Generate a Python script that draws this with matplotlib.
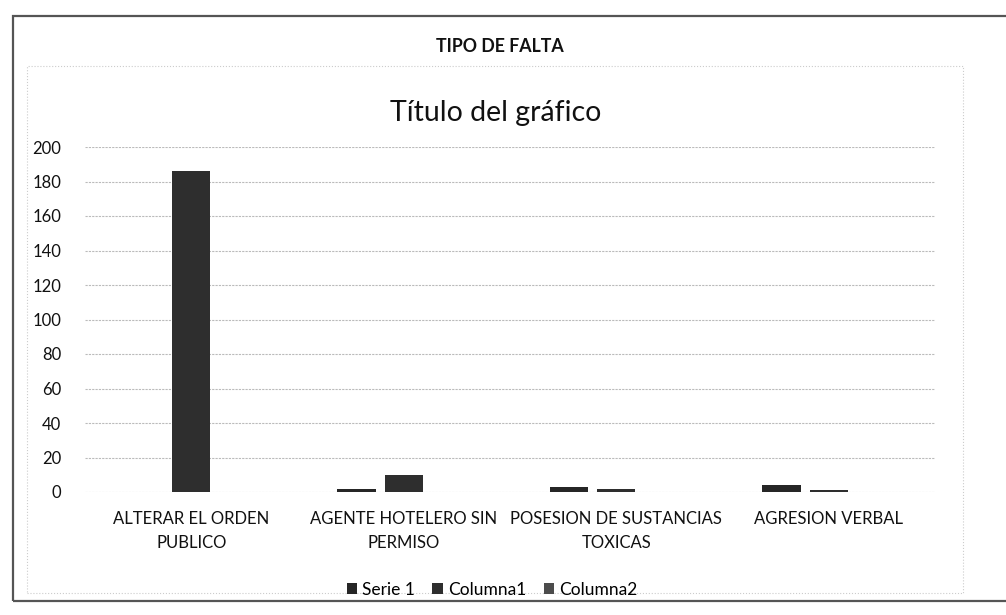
import matplotlib.pyplot as plt
import numpy as np
from matplotlib.patches import Rectangle

categories = ['ALTERAR EL ORDEN\nPUBLICO', 'AGENTE HOTELERO SIN\nPERMISO',
              'POSESION DE SUSTANCIAS\nTOXICAS', 'AGRESION VERBAL']
series_names = ['Serie 1', 'Columna1', 'Columna2']
serie1 = [0, 2, 3, 4]
columna1 = [186, 10, 2, 1]
columna2 = [0, 0, 0, 0]
y_ticks = [0, 20, 40, 60, 80, 100, 120, 140, 160, 180, 200]

plt.rcParams['font.family'] = ['Lato', 'DejaVu Sans']

fig = plt.figure(figsize=(10.06, 6.15), dpi=100)
W, H = 1006, 615

# outer border and faint inner chart box (pixel coords)
fig.patches.append(Rectangle((13 / W, 1 - 601 / H), 1.0, (601 - 16) / H,
                             transform=fig.transFigure, fill=False,
                             edgecolor='#555555', linewidth=1.6))
fig.patches.append(Rectangle((27 / W, 1 - 593 / H), (963 - 27) / W, (593 - 66) / H,
                             transform=fig.transFigure, fill=False,
                             edgecolor='#cccccc', linewidth=0.8, linestyle=':'))

ax = fig.add_axes([85 / W, 1 - 492 / H, (935 - 85) / W, (492 - 147) / H])

x = np.arange(len(categories))
w = 0.18
off = 0.222
colors = ['#262626', '#2e2e2e', '#4c4c4c']
for i, (name, vals) in enumerate(zip(series_names, [serie1, columna1, columna2])):
    ax.bar(x + (i - 1) * off, vals, width=w, color=colors[i], label=name, zorder=3)

ax.set_xlim(-0.5, len(categories) - 0.5)
ax.set_ylim(0, 200)
ax.set_yticks(y_ticks)
ax.set_xticks(x)
ax.set_xticklabels(categories, fontsize=12, color='#111111', linespacing=1.55,
                   va='top')
ax.tick_params(axis='y', labelsize=12, length=0, pad=17, colors='#111111')
ax.tick_params(axis='x', length=0, pad=14)
ax.grid(axis='y', color='#bbbbbb', linewidth=0.8, linestyle=(0, (2, 1)), zorder=0)
for s in ax.spines.values():
    s.set_visible(False)

fig.text(500 / W, 1 - 47 / H, 'TIPO DE FALTA', ha='center', va='center',
         fontsize=12.8, fontweight='bold', color='#111111')
fig.text(496 / W, 1 - 113 / H, 'Título del gráfico', ha='center', va='center',
         fontsize=20.5, color='#111111')

fig.legend(loc='center', bbox_to_anchor=(492 / W, 1 - 590 / H), ncol=3,
           frameon=False, fontsize=12.5, handlelength=0.6, handleheight=0.6,
           handletextpad=0.3, columnspacing=1.0)

fig.savefig('out.png', dpi=100, facecolor='white')
